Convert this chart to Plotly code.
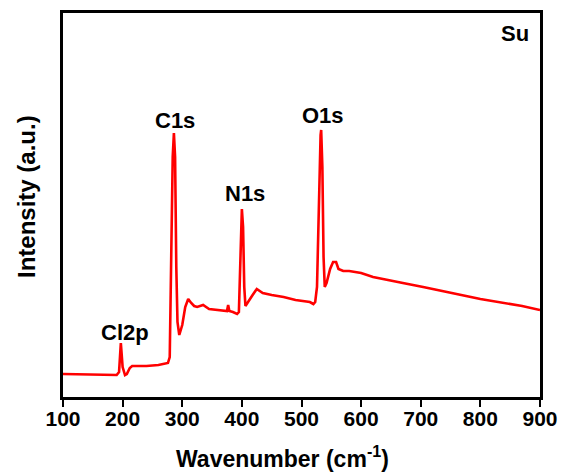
import plotly.graph_objects as go

# XPS-like survey spectrum (arbitrary intensity units)
wavenumber = [100, 150, 190, 194, 197, 200, 204, 207, 212, 216, 240, 260, 276, 279, 281, 284, 286, 288, 290, 292,
              295, 300, 305, 310, 315, 320, 325, 335, 345, 360, 375, 377, 379, 385, 392, 395, 397, 399, 400, 402,
              404, 406, 410, 418, 425, 435, 450, 470, 490, 514, 520, 523, 526, 529, 532, 533, 535, 537, 539, 542,
              548, 553, 558, 562, 570, 580, 600, 620, 643, 670, 704, 730, 760, 800, 840, 870, 900]
intensity = [23, 22.5, 22, 25, 54, 30, 22, 23, 29, 31, 31, 32, 34, 40, 120, 240, 264, 240, 130, 75,
             62, 72, 90, 98, 94, 91, 90, 92, 88, 87, 86, 92, 86, 85, 83, 85, 130, 185, 188, 170,
             110, 91, 95, 102, 108, 104, 102, 100, 97, 95, 93, 95, 110, 200, 262, 267, 230, 140, 110, 114,
             128, 135, 135, 128, 126, 126, 124, 120, 117, 114, 110, 107, 103, 98, 94, 91, 87]

peak_labels = ["Cl2p", "C1s", "N1s", "O1s"]
peak_x = [204, 288, 405, 536]
peak_y = [65, 277, 204, 282]

x_ticks = [100, 200, 300, 400, 500, 600, 700, 800, 900]

FONT = "Liberation Sans, Arial, sans-serif"

fig = go.Figure()
fig.add_trace(go.Scatter(x=wavenumber, y=intensity, mode="lines",
                         line=dict(color="#ff0000", width=2.6), showlegend=False))

for lab, px, py in zip(peak_labels, peak_x, peak_y):
    fig.add_annotation(x=px, y=py, text=f"<b>{lab}</b>", showarrow=False,
                       font=dict(family=FONT, size=22, color="black"))

fig.add_annotation(xref="paper", yref="paper", x=(531 - 63) / 477, y=(397 - 33) / 384,
                   xanchor="right", yanchor="middle", text="<b>Su</b>", showarrow=False,
                   font=dict(family=FONT, size=22, color="black"))

# axis titles as paper-anchored annotations
fig.add_annotation(xref="paper", yref="paper", x=(282 - 63) / 477, y=-(457 - 397) / 384,
                   xanchor="center", yanchor="middle", showarrow=False,
                   text="<b>Wavenumber (cm<sup>-1</sup>)</b>",
                   font=dict(family=FONT, size=23, color="black"))
fig.add_annotation(xref="paper", yref="paper", x=(26 - 63) / 477, y=(397 - 197) / 384,
                   xanchor="center", yanchor="middle", showarrow=False, textangle=-90,
                   text="<b>Intensity (a.u.)</b>", font=dict(family=FONT, size=24, color="black"))

fig.update_xaxes(range=[100, 900], tickvals=x_ticks, ticktext=[f"<b>{t}</b>" for t in x_ticks],
                 ticks="outside", ticklen=7, tickwidth=2, tickcolor="black", ticklabelstandoff=-6,
                 showline=True, linecolor="black", linewidth=3, mirror=True,
                 showgrid=False, zeroline=False, automargin=False,
                 tickfont=dict(family=FONT, size=21, color="black"))
fig.update_yaxes(range=[0, 384], showticklabels=False, ticks="",
                 showline=True, linecolor="black", linewidth=3, mirror=True,
                 showgrid=False, zeroline=False, automargin=False)

fig.update_layout(width=561, height=472, margin=dict(l=63, r=21, t=13, b=75),
                  plot_bgcolor="white", paper_bgcolor="white")

fig.write_html("out.html")
